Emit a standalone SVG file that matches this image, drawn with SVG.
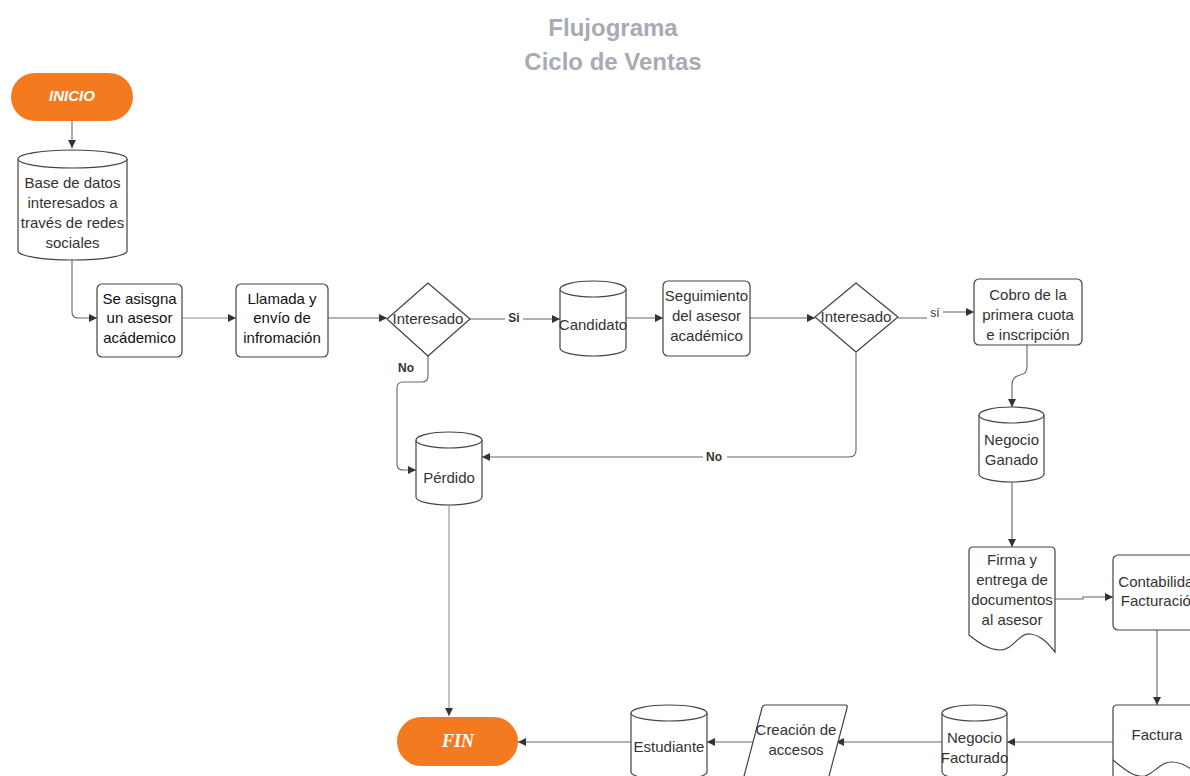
<svg xmlns="http://www.w3.org/2000/svg" width="1190" height="776" viewBox="0 0 1190 776">
<defs>
<marker id="arr" viewBox="0 0 10 10" refX="10" refY="5" markerWidth="9" markerHeight="8" markerUnits="userSpaceOnUse" orient="auto">
<path d="M0,0 L10,5 L0,10 z" fill="#333"/>
</marker>
</defs>
<style>
.sh{fill:#fff;stroke:#444;stroke-width:1.2}
.t{font-family:"Liberation Sans",Arial,sans-serif;font-size:15px;fill:#333;text-anchor:middle}
.d{fill:#111}
.c{fill:none;stroke:#666;stroke-width:1.1;marker-end:url(#arr)}
.cl{fill:none;stroke:#888;stroke-width:1;marker-end:url(#arr)}
.lb{font-family:"Liberation Sans",Arial,sans-serif;font-size:12px;font-weight:bold;fill:#333;text-anchor:middle}
.term{fill:#f47a20}
.title{font-family:"Liberation Sans",Arial,sans-serif;font-size:24px;font-weight:bold;fill:#a7abb4;text-anchor:middle}
</style>
<rect width="1190" height="776" fill="#fff"/>
<g id="title">
<text class="title" x="613" y="36">Flujograma</text>
<text class="title" x="613" y="70">Ciclo de Ventas</text>
</g>
<g id="connectors">
<path class="c" d="M72,121 V148"/>
<path class="c" d="M72,260 V312 Q72,318 78,318 H97"/>
<path class="cl" d="M182,318 H236"/>
<path class="c" d="M328,318 H387"/>
<path class="c" d="M470,319 H560"/>
<path class="c" d="M626,318 H663"/>
<path class="c" d="M750,318 H815"/>
<path class="c" d="M898,318 H930 V312 H974"/>
<path class="c" d="M1027,345 V367 Q1027,374 1020,375 Q1012,377 1012,385 V407"/>
<path class="c" d="M1012,482 V547"/>
<path class="c" d="M1055,599 H1083 V597 H1113"/>
<path class="c" d="M1157,630 V705"/>
<path class="c" d="M1113,742 H1007"/>
<path class="c" d="M942,742 H836"/>
<path class="c" d="M753,742 H707"/>
<path class="c" d="M631,742 H518"/>
<path class="c" d="M428,356 V376 Q428,382 422,382 H403 Q397,382 397,388 V464 Q397,470 403,470 H416"/>
<path class="c" d="M856,352 V450 Q856,457 849,457 H482"/>
<path class="cl" d="M449,505 V716"/>
<rect x="505" y="311" width="18" height="14" fill="#fff"/>
<text class="lb" x="514" y="322">Si</text>
<rect x="927" y="306" width="16" height="14" fill="#fff"/>
<text class="lb" x="935" y="317" style="font-weight:normal">sí</text>
<text class="lb" x="406" y="372">No</text>
<rect x="703" y="450" width="24" height="14" fill="#fff"/>
<text class="lb" x="714" y="461">No</text>
</g>
<g id="inicio">
<rect class="term" x="11" y="73" width="122" height="48" rx="24"/>
<text x="72" y="101" style="font-family:'Liberation Sans',Arial,sans-serif;font-size:15px;font-style:italic;font-weight:bold;fill:#fff;text-anchor:middle">INICIO</text>
</g>
<g id="base-datos">
<path class="sh" d="M18,159 a54.5,9 0 0 1 109,0 v92 a54.5,9 0 0 1 -109,0 z"/>
<path class="sh" d="M18,159 a54.5,9 0 0 0 109,0" fill="none"/>
<text class="t" x="72.5" y="188">Base de datos</text>
<text class="t" x="72.5" y="208">interesados a</text>
<text class="t" x="72.5" y="228">través de redes</text>
<text class="t" x="72.5" y="248">sociales</text>
</g>
<g id="asigna">
<rect class="sh" x="97" y="284" width="85" height="73" rx="5"/>
<text class="t d" x="139.5" y="304">Se asisgna</text>
<text class="t d" x="139.5" y="323">un asesor</text>
<text class="t d" x="139.5" y="343">acádemico</text>
</g>
<g id="llamada">
<rect class="sh" x="236" y="284" width="92" height="73" rx="5"/>
<text class="t d" x="282" y="304">Llamada y</text>
<text class="t d" x="282" y="323">envío de</text>
<text class="t d" x="282" y="343">infromación</text>
</g>
<g id="interesado1">
<path class="sh" d="M387,319 L428,283 L470,319 L428,356 z" stroke-linejoin="round"/>
<text class="t" x="428" y="324">Interesado</text>
</g>
<g id="candidato">
<path class="sh" d="M560,289 a33,8 0 0 1 66,0 v59 a33,8 0 0 1 -66,0 z"/>
<path class="sh" d="M560,289 a33,8 0 0 0 66,0" fill="none"/>
<text class="t" x="593" y="330">Candidato</text>
</g>
<g id="seguimiento">
<rect class="sh" x="663" y="281" width="87" height="75" rx="5"/>
<text class="t" x="706.5" y="301">Seguimiento</text>
<text class="t" x="706.5" y="321">del asesor</text>
<text class="t" x="706.5" y="341">académico</text>
</g>
<g id="interesado2">
<path class="sh" d="M815,317 L856,283 L898,317 L856,352 z" stroke-linejoin="round"/>
<text class="t" x="856" y="322">Interesado</text>
</g>
<g id="cobro">
<rect class="sh" x="974" y="279" width="108" height="66" rx="5"/>
<text class="t" x="1028" y="300">Cobro de la</text>
<text class="t" x="1028" y="320">primera cuota</text>
<text class="t" x="1028" y="340">e inscripción</text>
</g>
<g id="negocio-ganado">
<path class="sh" d="M979,415 a32.5,8 0 0 1 65,0 v59 a32.5,8 0 0 1 -65,0 z"/>
<path class="sh" d="M979,415 a32.5,8 0 0 0 65,0" fill="none"/>
<text class="t" x="1011.5" y="445">Negocio</text>
<text class="t" x="1011.5" y="465">Ganado</text>
</g>
<g id="perdido">
<path class="sh" d="M416,440 a33,8 0 0 1 66,0 v57 a33,8 0 0 1 -66,0 z"/>
<path class="sh" d="M416,440 a33,8 0 0 0 66,0" fill="none"/>
<text class="t" x="449" y="483">Pérdido</text>
</g>
<g id="firma">
<path class="sh" d="M969,551 Q969,547 973,547 H1051 Q1055,547 1055,551 V652 C1050,646 1042,635 1030,634 C1018,633 1014,650 1000,650 C988,650 978,642 969,635 z"/>
<text class="t" x="1012" y="565">Firma y</text>
<text class="t" x="1012" y="585">entrega de</text>
<text class="t" x="1012" y="605">documentos</text>
<text class="t" x="1012" y="625">al asesor</text>
</g>
<g id="contabilidad">
<rect class="sh" x="1113" y="555" width="100" height="75" rx="5"/>
<text class="t" x="1160" y="587">Contabilidad</text>
<text class="t" x="1160" y="606">Facturación</text>
</g>
<g id="factura">
<path class="sh" d="M1117,705 H1210 V790 H1113 V709 Q1113,705 1117,705 z"/>
<path d="M1114,761 C1125,771 1135,779 1145,777 L1145,790 L1114,790 z" fill="#fff"/>
<path d="M1113,760 C1125,770 1135,778 1145,776 C1155,773 1160,762 1172,762 C1182,762 1190,768 1195,772" fill="none" stroke="#444" stroke-width="1.2"/>
<text class="t" x="1157" y="740">Factura</text>
</g>
<g id="negocio-facturado">
<path class="sh" d="M942,713 a32.5,8 0 0 1 65,0 v59 a32.5,8 0 0 1 -65,0 z"/>
<path class="sh" d="M942,713 a32.5,8 0 0 0 65,0" fill="none"/>
<text class="t" x="974.5" y="743">Negocio</text>
<text class="t" x="974.5" y="763">Facturado</text>
</g>
<g id="creacion">
<path class="sh" d="M765,705 H845 Q848,705 847,708 L828,780 H743 L762,708 Q763,705 765,705 z"/>
<text class="t" x="796" y="735">Creación de</text>
<text class="t" x="796" y="755">accesos</text>
</g>
<g id="estudiante">
<path class="sh" d="M631,713 a38,8 0 0 1 76,0 v59 a38,8 0 0 1 -76,0 z"/>
<path class="sh" d="M631,713 a38,8 0 0 0 76,0" fill="none"/>
<text class="t" x="669" y="752">Estudiante</text>
</g>
<g id="fin">
<rect class="term" x="397" y="717" width="121" height="49" rx="24.5"/>
<text x="458" y="747" style="font-family:'Liberation Serif','Times New Roman',serif;font-size:18px;font-style:italic;font-weight:bold;fill:#fff;text-anchor:middle">FIN</text>
</g>
</svg>
